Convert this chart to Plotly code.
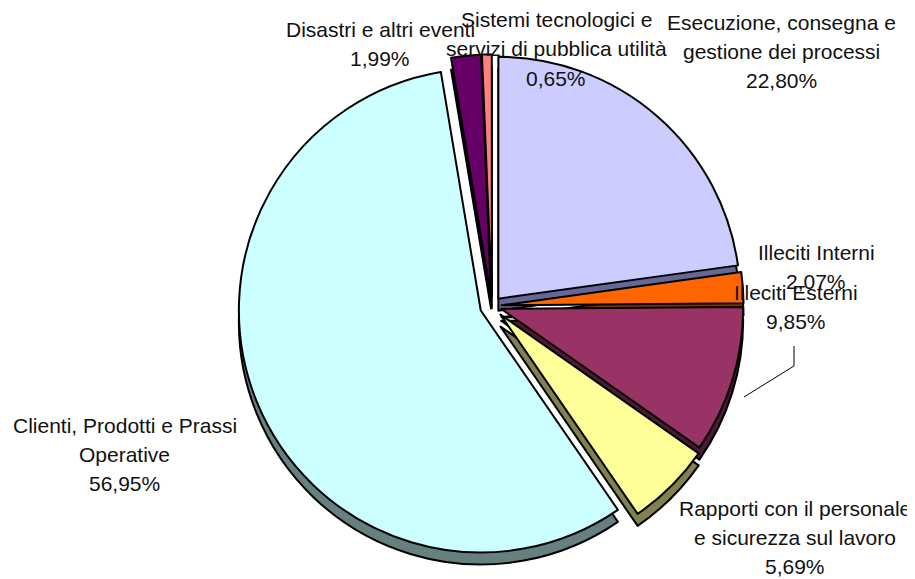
import plotly.graph_objects as go

W, H = 915, 579

labels = [
    "Esecuzione, consegna e gestione dei processi",
    "Illeciti Interni",
    "Illeciti Esterni",
    "Rapporti con il personale e sicurezza sul lavoro",
    "Clienti, Prodotti e Prassi Operative",
    "Disastri e altri eventi",
    "Sistemi tecnologici e servizi di pubblica utilità",
]
values = [22.80, 2.07, 9.85, 5.69, 56.95, 1.99, 0.65]
colors = ["#CCCCFF", "#FF6600", "#993366", "#FFFF99", "#CCFFFF", "#660066", "#FF8080"]
side_colors = ["#666699", "#803300", "#4D1A33", "#808050", "#668080", "#330033", "#804040"]

# label lines as drawn in the chart
label_lines = [
    ["Esecuzione, consegna e", "gestione dei processi"],
    ["Illeciti Interni"],
    ["Illeciti Esterni"],
    ["Rapporti con il personale", "e sicurezza sul lavoro"],
    ["Clienti, Prodotti e Prassi", "Operative"],
    ["Disastri e altri eventi"],
    ["Sistemi tecnologici e", "servizi di pubblica utilità"],
]


def px(x, y):
    return x / W, 1 - y / H


cx, cy, half = 484, 298, 254
depth = 12
pull = [0.04, 0.04, 0.04, 0.05, 0.05, 0.04, 0.04]

fig = go.Figure()

# 3D side (shifted down)
x0, y0 = px(cx - half, cy + depth + half)
x1, y1 = px(cx + half, cy + depth - half)
fig.add_trace(go.Pie(
    labels=labels, values=values, sort=False, direction="clockwise", rotation=0,
    marker=dict(colors=side_colors, line=dict(color="black", width=2)),
    pull=pull, textinfo="none", hoverinfo="skip", showlegend=False,
    domain=dict(x=[x0, x1], y=[y0, y1]),
))

# top face
x0, y0 = px(cx - half, cy + half)
x1, y1 = px(cx + half, cy - half)
fig.add_trace(go.Pie(
    labels=labels, values=values, sort=False, direction="clockwise", rotation=0,
    marker=dict(colors=colors, line=dict(color="black", width=2)),
    pull=pull, textinfo="none", showlegend=False,
    domain=dict(x=[x0, x1], y=[y0, y1]),
))

# label anchor: center x, first line y
anchors = [(773, 22), (808, 252), (788, 292), (787, 508), (117, 425), (372, 30), (548, 20)]
step = 29
for lines, v, (ax, ay) in zip(label_lines, values, anchors):
    all_lines = lines + [f"{v:.2f}%".replace(".", ",")]
    for i, t in enumerate(all_lines):
        xx, yy = px(ax, ay + i * step - 8)
        fig.add_annotation(x=xx, y=yy, xref="paper", yref="paper", text=t,
                           showarrow=False, xanchor="center", yanchor="middle",
                           font=dict(family="Liberation Sans, Arial", size=21, color="#111111"))

# leader line for Illeciti Esterni
pts = [(786, 338), (786, 358), (736, 389)]
for (a, b), (c, d) in zip(pts[:-1], pts[1:]):
    xa, ya = px(a, b)
    xc, yc = px(c, d)
    fig.add_shape(type="line", xref="paper", yref="paper", x0=xa, y0=ya, x1=xc, y1=yc,
                  line=dict(color="black", width=1))

fig.update_layout(
    width=W, height=H,
    margin=dict(l=0, r=0, t=0, b=0),
    paper_bgcolor="white", plot_bgcolor="white",
)

fig.write_html("out.html")
